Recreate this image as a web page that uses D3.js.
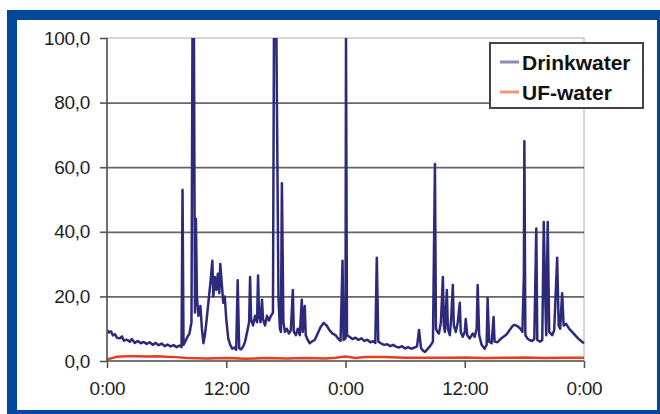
<!DOCTYPE html>
<meta charset="utf-8">
<title>Drinkwater vs UF-water</title>
<style>
body {
  margin: 0;
  padding: 0;
  background: #fff;
  font-family: 'Liberation Sans', Arial, sans-serif;
}
.axis text {
  font-size: 19px;
  fill: #1e1e1e;
  letter-spacing: -0.3px;
}
.axis .domain {
  stroke: #555;
  stroke-width: 1.6;
}
.axis .tick line {
  stroke: #555;
  stroke-width: 1.6;
}
.grid line {
  stroke: #666;
  stroke-width: 1.7;
}
.grid .domain {
  display: none;
}
.legend text {
  font-size: 21px;
  font-weight: bold;
  fill: #111;
}
</style>
<body>
  <svg width="660" height="414"></svg>
</body>
<script src="https://d3js.org/d3.v7.min.js"></script>
<script>
// hours since start (0..48) and value
var drinkwater = [
  [0,9.6],[0.2,8.8],[0.4,9.2],[0.6,7.9],[0.8,8.3],[1.0,7.2],[1.3,7.0],[1.5,7.6],[1.7,6.3],[2.0,6.6],
  [2.3,6.0],[2.5,6.8],[2.8,5.6],[3.1,6.2],[3.4,5.5],[3.7,5.9],[4.0,5.3],[4.3,5.8],[4.6,5.0],[4.9,5.6],
  [5.2,4.9],[5.5,5.4],[5.8,4.6],[6.1,5.1],[6.4,4.5],[6.7,4.9],[7.0,4.3],[7.3,4.8],[7.5,4.3],
  [7.6,53],[7.7,5.0],[7.9,6.2],[8.1,7.5],[8.3,8.5],[8.5,12],[8.6,100],[8.75,100],[8.85,15],[8.95,44],
  [9.05,20],[9.2,14],[9.4,17],[9.55,10],[9.7,5.5],[9.85,8],[10.0,12],[10.2,18],[10.4,24],[10.6,31],
  [10.7,20],[10.85,26],[11.0,22],[11.15,27],[11.3,21],[11.4,30],[11.55,24],[11.7,18],[11.85,20],[12.0,13],
  [12.2,7],[12.4,5],[12.6,3.8],[12.8,4.2],[13.0,3.5],[13.15,25],[13.3,4.0],[13.5,3.6],[13.7,4.5],[13.9,6],
  [14.1,9],[14.3,12],[14.4,26],[14.5,13],[14.7,11],[14.9,14],[15.1,12],[15.2,26.5],[15.3,14],[15.45,12],
  [15.6,19],[15.7,13],[15.9,11],[16.1,14],[16.3,12.5],[16.5,14],[16.7,15],[16.8,100],[17.05,100],
  [17.25,20],[17.4,10],[17.5,9],[17.6,55],[17.75,12],[17.9,9],[18.1,10],[18.3,8.5],[18.5,9.5],[18.7,22],
  [18.8,9],[19.0,8],[19.2,10],[19.4,8],[19.6,19],[19.7,9],[19.9,17],[20.0,8],[20.2,6.5],[20.4,5.5],
  [20.6,6.0],[20.9,6.5],[21.2,8.5],[21.5,10.5],[21.8,11.8],[22.1,11],[22.4,9.5],[22.7,8.5],[23.0,8.0],[23.3,6.8],
  [23.5,6.2],[23.7,31],[23.8,6.5],[24.0,7],[24.05,100],[24.15,8],[24.4,7.5],[24.7,6.8],[25.0,7.2],[25.3,6.5],
  [25.6,7.0],[25.9,6.2],[26.2,6.6],[26.5,5.8],[26.8,6.1],[27.0,5.6],[27.15,32],[27.3,6.0],[27.6,5.4],[27.9,5.0],
  [28.2,5.2],[28.5,4.6],[28.8,5.0],[29.1,4.4],[29.4,4.2],[29.7,4.6],[30.0,3.9],[30.3,4.3],[30.6,3.8],[30.9,4.1],
  [31.2,4.5],[31.4,9.6],[31.6,4.0],[31.8,3.2],[32.0,2.8],[32.2,3.5],[32.4,4.2],[32.6,5.0],[32.8,6],[33.0,61],
  [33.1,10],[33.25,9],[33.4,8.5],[33.6,12],[33.8,26],[33.9,11],[34.0,9],[34.2,22],[34.3,10],[34.5,8],
  [34.65,14],[34.8,23.5],[34.9,11],[35.1,9],[35.3,12],[35.5,18],[35.6,9],[35.8,7.5],[36.0,9],[36.1,13],
  [36.25,8],[36.5,7],[36.8,8.5],[37.0,7.5],[37.2,10],[37.3,23.5],[37.45,8],[37.7,5],[38.0,3.8],[38.2,5],
  [38.3,19.5],[38.45,6],[38.7,5.5],[38.9,13.6],[39.0,6],[39.3,5.8],[39.6,6.8],[39.9,7.5],[40.2,8.2],[40.5,9.5],
  [40.8,10.8],[41.0,11.2],[41.3,10.8],[41.6,10],[41.8,9],[41.95,26.7],[42.0,68],[42.1,8],[42.3,7],[42.5,6.5],
  [42.8,6.2],[43.0,6.8],[43.2,41],[43.3,6.5],[43.6,6],[43.8,6.5],[43.95,43],[44.1,20],[44.2,8],[44.35,43],
  [44.5,9],[44.8,8],[45.0,9.5],[45.3,32],[45.45,11],[45.6,10],[45.8,21],[45.95,11],[46.2,11.5],[46.5,10],
  [46.8,9],[47.1,8],[47.4,7],[47.7,6.2],[48,5.5]
];

var ufwater = [
  [0,0.5],[0.5,0.9],[1,1.3],[2,1.5],[3,1.5],[4,1.4],[5,1.5],[6,1.3],[7,1.2],[8,0.9],[10,0.8],
  [12,0.9],[14,0.7],[16,0.9],[18,0.8],[20,0.9],[22,0.8],[23,1.0],[24,1.4],[25,0.9],[26,1.2],
  [28,1.2],[30,1.0],[32,1.0],[34,1.0],[36,1.1],[38,0.9],[40,1.0],[42,1.1],[44,0.9],[46,1.0],[48,1.0]
];

var seriesNames = ["Drinkwater", "UF-water"];
var seriesColors = ["#2d2a7c", "#e4401e"];
var xTicks = [0, 12, 24, 36, 48];
var xTickLabels = ["0:00", "12:00", "0:00", "12:00", "0:00"];
var yTicks = [0, 20, 40, 60, 80, 100];

var svg = d3.select("svg");

// blue frame
svg.append("rect").attr("x", 7).attr("y", 10).attr("width", 653).attr("height", 404).attr("fill", "#03479a");
svg.append("rect").attr("x", 17).attr("y", 20).attr("width", 640).attr("height", 390).attr("fill", "#fff");

var x = d3.scaleLinear().domain([0, 48]).range([107, 584]);
var y = d3.scaleLinear().domain([0, 100]).range([361, 38]);

var nl = d3.formatLocale({decimal: ",", thousands: ".", grouping: [3], currency: ["", ""]});
var fmt = nl.format(".1f");

// plot border (light gray top / right)
svg.append("rect")
    .attr("x", x(0)).attr("y", y(100))
    .attr("width", x(48) - x(0)).attr("height", y(0) - y(100))
    .attr("fill", "#fff").attr("stroke", "#c8c8c8").attr("stroke-width", 1.5);

// horizontal gridlines
svg.append("g")
    .attr("class", "grid")
    .attr("transform", "translate(" + x(0) + ",0)")
    .call(d3.axisLeft(y).tickValues([20, 40, 60, 80]).tickSize(-(x(48) - x(0))).tickFormat(""));

svg.append("defs").append("clipPath").attr("id", "clip")
  .append("rect").attr("x", x(0)).attr("y", y(100)).attr("width", x(48) - x(0) + 2).attr("height", y(0) - y(100) + 3);

var line = d3.line()
    .x(function(d) { return x(d[0]); })
    .y(function(d) { return y(d[1]); });

var plot = svg.append("g").attr("clip-path", "url(#clip)");

plot.append("path")
    .datum(drinkwater)
    .attr("d", line)
    .attr("fill", "none")
    .attr("stroke", seriesColors[0])
    .attr("stroke-width", 2.5)
    .attr("stroke-linejoin", "round");

// y axis
svg.append("g")
    .attr("class", "axis")
    .attr("transform", "translate(" + x(0) + ",0)")
    .call(d3.axisLeft(y).tickValues(yTicks).tickSize(7).tickPadding(10).tickFormat(fmt))
    .call(function(g) { g.select(".domain").attr("d", "M0," + y(0) + "V" + y(100)); });

// x axis
svg.append("g")
    .attr("class", "axis")
    .attr("transform", "translate(0," + y(0) + ")")
    .call(d3.axisBottom(x).tickValues(xTicks).tickSize(7).tickPadding(14)
      .tickFormat(function(d, i) { return xTickLabels[i]; }))
    .call(function(g) { g.select(".domain").attr("d", "M" + x(0) + ",0H" + x(48)); });

plot.append("path")
    .datum(ufwater)
    .attr("d", line)
    .attr("fill", "none")
    .attr("stroke", seriesColors[1])
    .attr("stroke-width", 2.5);

// legend
var legend = svg.append("g").attr("class", "legend").attr("transform", "translate(490,43)");
legend.append("rect")
    .attr("width", 153).attr("height", 65)
    .attr("fill", "#fff").attr("stroke", "#444").attr("stroke-width", 2);

seriesNames.forEach(function(name, i) {
  var row = legend.append("g").attr("transform", "translate(0," + (19 + i * 30) + ")");
  row.append("line")
      .attr("x1", 10).attr("x2", 29).attr("y1", 0).attr("y2", 0)
      .attr("stroke", seriesColors[i]).attr("stroke-width", 3).attr("stroke-opacity", 0.55);
  row.append("text")
      .attr("x", 32).attr("y", 8)
      .text(name);
});
</script>
